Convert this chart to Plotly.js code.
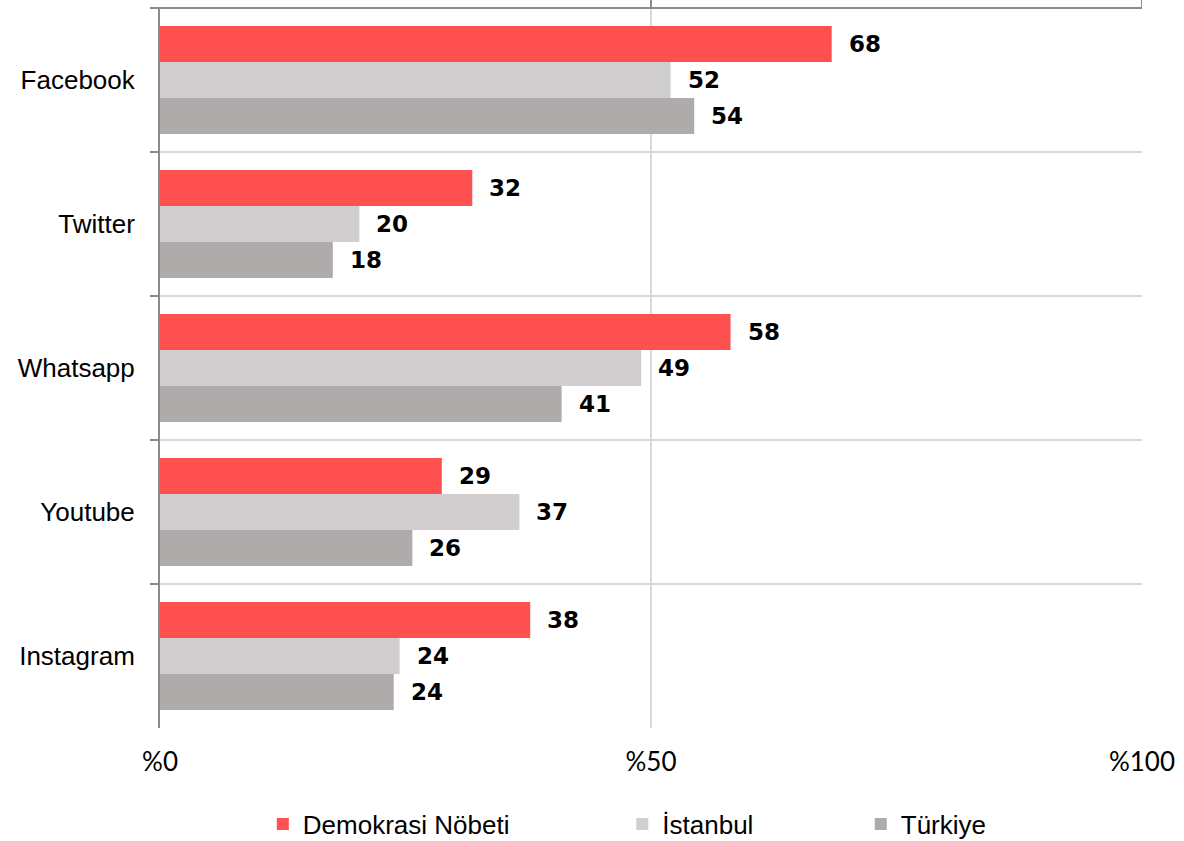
<!DOCTYPE html>
<html>
<head>
<meta charset="utf-8">
<script src="https://cdn.plot.ly/plotly-3.0.1.min.js"></script>
<style>html,body{margin:0;padding:0;background:#fff;}#chart{width:1184px;height:841px;}</style>
</head>
<body>
<div id="chart"></div>
<script>
var categories = ["Facebook", "Twitter", "Whatsapp", "Youtube", "Instagram"];
var seriesNames = ["Demokrasi Nöbeti", "İstanbul", "Türkiye"];
var demokrasi = [68.4, 31.8, 58.1, 28.7, 37.7];
var istanbul = [52.0, 20.3, 49.0, 36.6, 24.4];
var turkiye = [54.4, 17.6, 40.9, 25.7, 23.8];
var colors = ["#FF5050", "#D0CECE", "#AFABAB"];
var tickVals = [0, 50, 100];
var tickText = ["%0", "%50", "%100"];

var seriesValues = [demokrasi, istanbul, turkiye];
var legendNames = ["legend", "legend2", "legend3"];
var traces = seriesValues.map(function (vals, i) {
  return {
    type: "bar",
    orientation: "h",
    name: seriesNames[i],
    x: vals,
    y: categories,
    marker: {color: colors[i], line: {width: 0}},
    legend: legendNames[i],
    hoverinfo: "x+name"
  };
});

var annotations = [];
var shifts = [36, 0, -36];
seriesValues.forEach(function (vals, i) {
  vals.forEach(function (v, j) {
    annotations.push({
      x: v, y: categories[j], xref: "x", yref: "y",
      text: String(Math.round(v)),
      showarrow: false, xanchor: "left", yanchor: "middle",
      xshift: 15, yshift: shifts[i],
      font: {family: "DejaVu Sans", size: 23, color: "#000", weight: "bold"}
    });
  });
});

var legendFont = {family: "Liberation Sans Narrow, Liberation Sans, Arial", size: 26, color: "#000"};
function legendAt(x) {
  return {orientation: "h", x: x, xanchor: "left", xref: "container",
          y: 0.0202, yanchor: "middle", yref: "container",
          font: legendFont, bgcolor: "rgba(0,0,0,0)", borderwidth: 0, itemwidth: 30};
}

var layout = {
  width: 1184, height: 841,
  margin: {l: 160, r: 42, t: 8, b: 113},
  paper_bgcolor: "#fff", plot_bgcolor: "#fff",
  barmode: "group", bargap: 0.25, bargroupgap: 0,
  showlegend: true,
  legend: legendAt(0.222),
  legend2: legendAt(0.5256),
  legend3: legendAt(0.727),
  xaxis: {
    range: [0, 100], tickvals: tickVals, ticktext: tickText,
    showgrid: true, gridcolor: "#D9D9D9", gridwidth: 1.5,
    zeroline: false, showline: false, ticks: "",
    ticklabelstandoff: 16,
    tickfont: {family: "Lato", size: 26, color: "#000"}
  },
  yaxis: {
    type: "category", autorange: "reversed",
    tickson: "boundaries", ticks: "outside", ticklen: 8, tickwidth: 2, tickcolor: "#8C8C8C",
    showgrid: true, gridcolor: "#D9D9D9", gridwidth: 1.5,
    showline: true, linecolor: "#8C8C8C", linewidth: 2,
    ticklabelstandoff: 18,
    tickfont: {family: "Liberation Sans, Arial", size: 26, color: "#000"}
  },
  annotations: annotations,
  shapes: [
    {type: "line", xref: "paper", yref: "paper", x0: -0.008, x1: 1, y0: 1, y1: 1,
     line: {color: "#8C8C8C", width: 2}},
    {type: "line", xref: "x", yref: "paper", x0: 50, x1: 50, y0: 1, y1: 1.02,
     line: {color: "#8C8C8C", width: 2}},
    {type: "line", xref: "x", yref: "paper", x0: 100, x1: 100, y0: 1, y1: 1.02,
     line: {color: "#8C8C8C", width: 2}}
  ]
};

Plotly.newPlot("chart", traces, layout, {displayModeBar: false, staticPlot: true});
</script>
</body>
</html>
